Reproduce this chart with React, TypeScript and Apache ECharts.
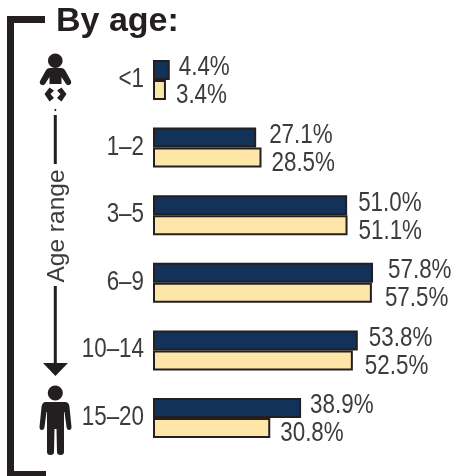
import React, { useEffect, useRef } from "react";
import * as echarts from "echarts";

const categories = ["<1", "1–2", "3–5", "6–9", "10–14", "15–20"];
const seriesA = [4.4, 27.1, 51.0, 57.8, 53.8, 38.9];
const seriesB = [3.4, 28.5, 51.1, 57.5, 52.5, 30.8];
const titleText = "By age:";
const axisTitle = "Age range";

const gapsA = [9, 13, 11, 15, 11, 9];
const gapsB = [10, 10, 11, 13, 12, 10];

const BABY_BODY = "M50 68 L61 68 Q64 68 65.5 71 L71 81 Q72 84 69 85 Q67 85.5 66 84 L61.5 77 L61.5 84 L49.5 84 L49.5 77 L45 84 Q44 85.5 42 85 Q39 84 40 81 L45.5 71 Q47 68 50 68 Z M49.5 87.5 L54 90.5 L50.5 94 L54 98 L49.5 101.5 L44.5 94 Z M61.5 87.5 L57 90.5 L60.5 94 L57 98 L61.5 101.5 L66.5 94 Z";
const PERSON_BODY = "M46 402 L65 402 Q69 402 69.5 407 L71.5 427 Q71.5 430 69 430 Q67 430 66.5 427 L64.5 412 L64 412 L64 452 Q64 455 60.5 455 Q57 455 57 452 L56.5 429 L54.5 429 L54 452 Q54 455 50.5 455 Q47 455 47 452 L47 412 L46.5 412 L44.5 427 Q44 430 42 430 Q39.5 430 39.5 427 L41.5 407 Q42 402 46 402 Z";

echarts.graphic.registerShape("babyIcon", echarts.graphic.extendPath(BABY_BODY, {}));
echarts.graphic.registerShape("personIcon", echarts.graphic.extendPath(PERSON_BODY, {}));

const INK = "#231f20";
const TEXT = "#3c3c3c";
const FONT = "'Liberation Sans', Arial, sans-serif";
const SQUEEZE = 0.8;
const LABEL_SIZE = 28;

const squeezedText = (x: number, y: number, text: string, align: string) => ({
  type: "text",
  x,
  y,
  scaleX: SQUEEZE,
  silent: true,
  style: { text, align, verticalAlign: "middle", fontFamily: FONT, fontSize: LABEL_SIZE, fill: TEXT },
});

const valueLabels = (values: number[], gaps: number[], dy: number) => ({
  type: "custom",
  data: values.map((v, i) => [v, i]),
  encode: { x: 0, y: 1 },
  clip: false,
  silent: true,
  renderItem: (_: any, api: any) => {
    const v = api.value(0);
    const i = api.value(1);
    const [px, py] = api.coord([v, i]);
    return squeezedText(px + gaps[i], py + dy, `${v.toFixed(1)}%`, "left");
  },
});

export default function App() {
  const ref = useRef<HTMLDivElement>(null);
  useEffect(() => {
    const chart = echarts.init(ref.current!, undefined, { renderer: "svg" });
    chart.setOption({
      animation: false,
      grid: { left: 153, top: 46.2, width: 228.4, height: 405.6, containLabel: false },
      xAxis: { type: "value", min: 0, max: 60, show: false },
      yAxis: {
        type: "category",
        inverse: true,
        data: categories,
        axisLine: { show: false },
        axisTick: { show: false },
        axisLabel: { show: false },
      },
      series: [
        {
          type: "bar",
          data: seriesA,
          barWidth: 20,
          barGap: "0%",
          itemStyle: { color: "#12325a", borderColor: INK, borderWidth: 2 },
        },
        {
          type: "bar",
          data: seriesB,
          barWidth: 20,
          barGap: "0%",
          itemStyle: { color: "#fee6a8", borderColor: INK, borderWidth: 2 },
        },
        valueLabels(seriesA, gapsA, -14.5),
        valueLabels(seriesB, gapsB, 13.5),
        {
          type: "custom",
          data: categories.map((_, i) => [0, i]),
          encode: { x: 0, y: 1 },
          clip: false,
          silent: true,
          renderItem: (_: any, api: any) => {
            const i = api.value(1);
            const [px, py] = api.coord([0, i]);
            return squeezedText(px - 9, py - 3, categories[i], "right");
          },
        },
      ],
      graphic: [
        { type: "polyline", shape: { points: [[45, 19.5], [10.5, 19.5], [10.5, 474.5], [46, 474.5]] }, style: { fill: "none", stroke: INK, lineWidth: 7 } },
        { type: "text", x: 56, y: 19, style: { text: titleText, fontFamily: FONT, fontWeight: "bold", fontSize: 34, fill: INK, verticalAlign: "middle" } },
        { type: "circle", shape: { cx: 55.3, cy: 60.7, r: 7.3 }, style: { fill: INK } },
        { type: "babyIcon", style: { fill: INK } },
        { type: "circle", shape: { cx: 55.3, cy: 110, r: 1 }, style: { fill: INK } },
        { type: "line", shape: { x1: 55.3, y1: 115, x2: 55.3, y2: 164 }, style: { stroke: INK, lineWidth: 3 } },
        { type: "text", x: 55, y: 226, rotation: Math.PI / 2, style: { text: axisTitle, fontFamily: FONT, fontSize: 24.5, fill: TEXT, align: "center", verticalAlign: "middle" } },
        { type: "line", shape: { x1: 55.3, y1: 286, x2: 55.3, y2: 365 }, style: { stroke: INK, lineWidth: 3 } },
        { type: "polygon", shape: { points: [[43, 363], [68, 363], [55.4, 376]] }, style: { fill: INK } },
        { type: "circle", shape: { cx: 55.3, cy: 393, r: 7.5 }, style: { fill: INK } },
        { type: "personIcon", style: { fill: INK } },
      ],
    });
    return () => chart.dispose();
  }, []);
  return <div ref={ref} style={{ position: "fixed", left: 0, top: 0, width: 462, height: 476 }} />;
}
